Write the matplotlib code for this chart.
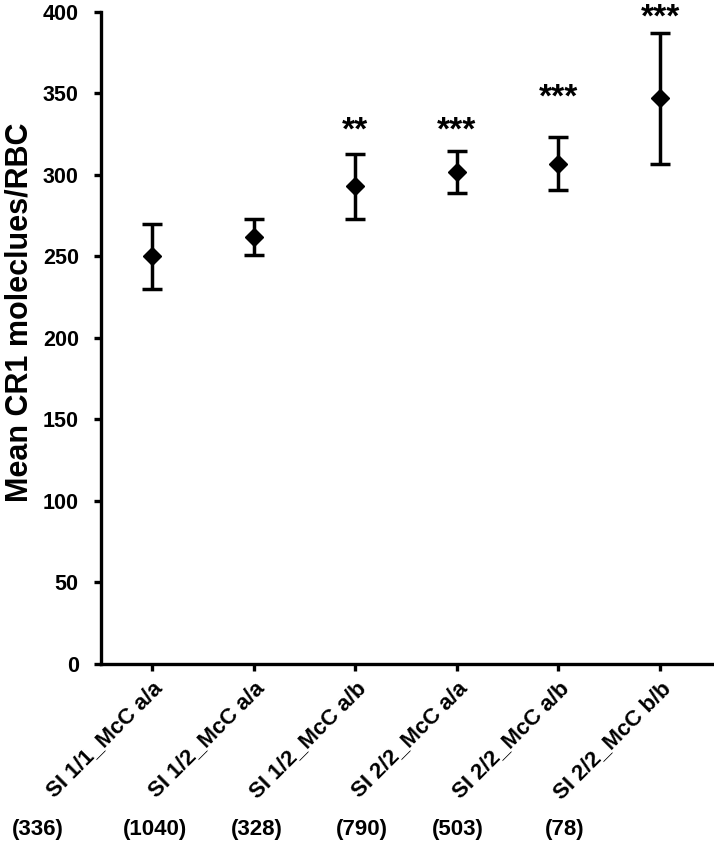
import numpy as np
import matplotlib
matplotlib.use('Agg')
import matplotlib.pyplot as plt
import matplotlib.transforms as mtransforms

plt.rcParams['font.family'] = ['Liberation Sans', 'DejaVu Sans']
plt.rcParams['font.weight'] = 'bold'

genotypes = ['SI 1/1_McC a/a', 'SI 1/2_McC a/a', 'SI 1/2_McC a/b',
             'SI 2/2_McC a/a', 'SI 2/2_McC a/b', 'SI 2/2_McC b/b']
counts = ['(336)', '(1040)', '(328)', '(790)', '(503)', '(78)']
means = [250, 262, 293, 302, 307, 347]
errs = [20, 11, 20, 13, 16, 40]
stars = ['', '', '**', '***', '***', '***']
star_y = [0, 0, 327, 327, 347, 396]

fig = plt.figure(figsize=(7.14, 8.44), dpi=100)
ax = fig.add_axes([0.1415, 0.2133, 0.8585, 0.7725])

x = np.arange(len(genotypes))
ax.errorbar(x, means, yerr=errs, fmt='D', color='black', ms=9,
            elinewidth=2.5, capsize=7.2, capthick=2.5)

for i in range(len(genotypes)):
    if stars[i]:
        ax.text(x[i], star_y[i], stars[i], ha='center', va='center',
                fontsize=24, fontweight='bold')

ax.set_ylim(0, 400)
ax.set_xlim(-0.5, 5.53)
ax.set_yticks(np.arange(0, 401, 50))
ax.set_xticks(x)
ax.set_xticklabels(genotypes, rotation=45, ha='right', rotation_mode='anchor',
                   fontsize=16, fontweight='bold')
ax.tick_params(axis='y', labelsize=15.5, width=2.4, length=5, pad=11, direction='out')
ax.tick_params(axis='x', width=2.4, length=5, pad=5, direction='out')
for lab in ax.get_yticklabels():
    lab.set_fontweight('bold')
ax.set_ylabel('Mean CR1 moleclues/RBC', fontsize=22, fontweight='bold')
ax.yaxis.set_label_coords(-0.108, 0.54)

for s in ['top', 'right']:
    ax.spines[s].set_visible(False)
for s in ['left', 'bottom']:
    ax.spines[s].set_linewidth(2.4)

# sample sizes below the labels
count_x = [-1.12, 0.03, 1.03, 2.07, 3.01, 4.06]
trans = mtransforms.blended_transform_factory(ax.transData, fig.transFigure)
for cx, c in zip(count_x, counts):
    ax.text(cx, 0.0166, c, transform=trans, ha='center', va='center',
            fontsize=16, fontweight='bold', clip_on=False)

fig.savefig('out.png', dpi=100)
